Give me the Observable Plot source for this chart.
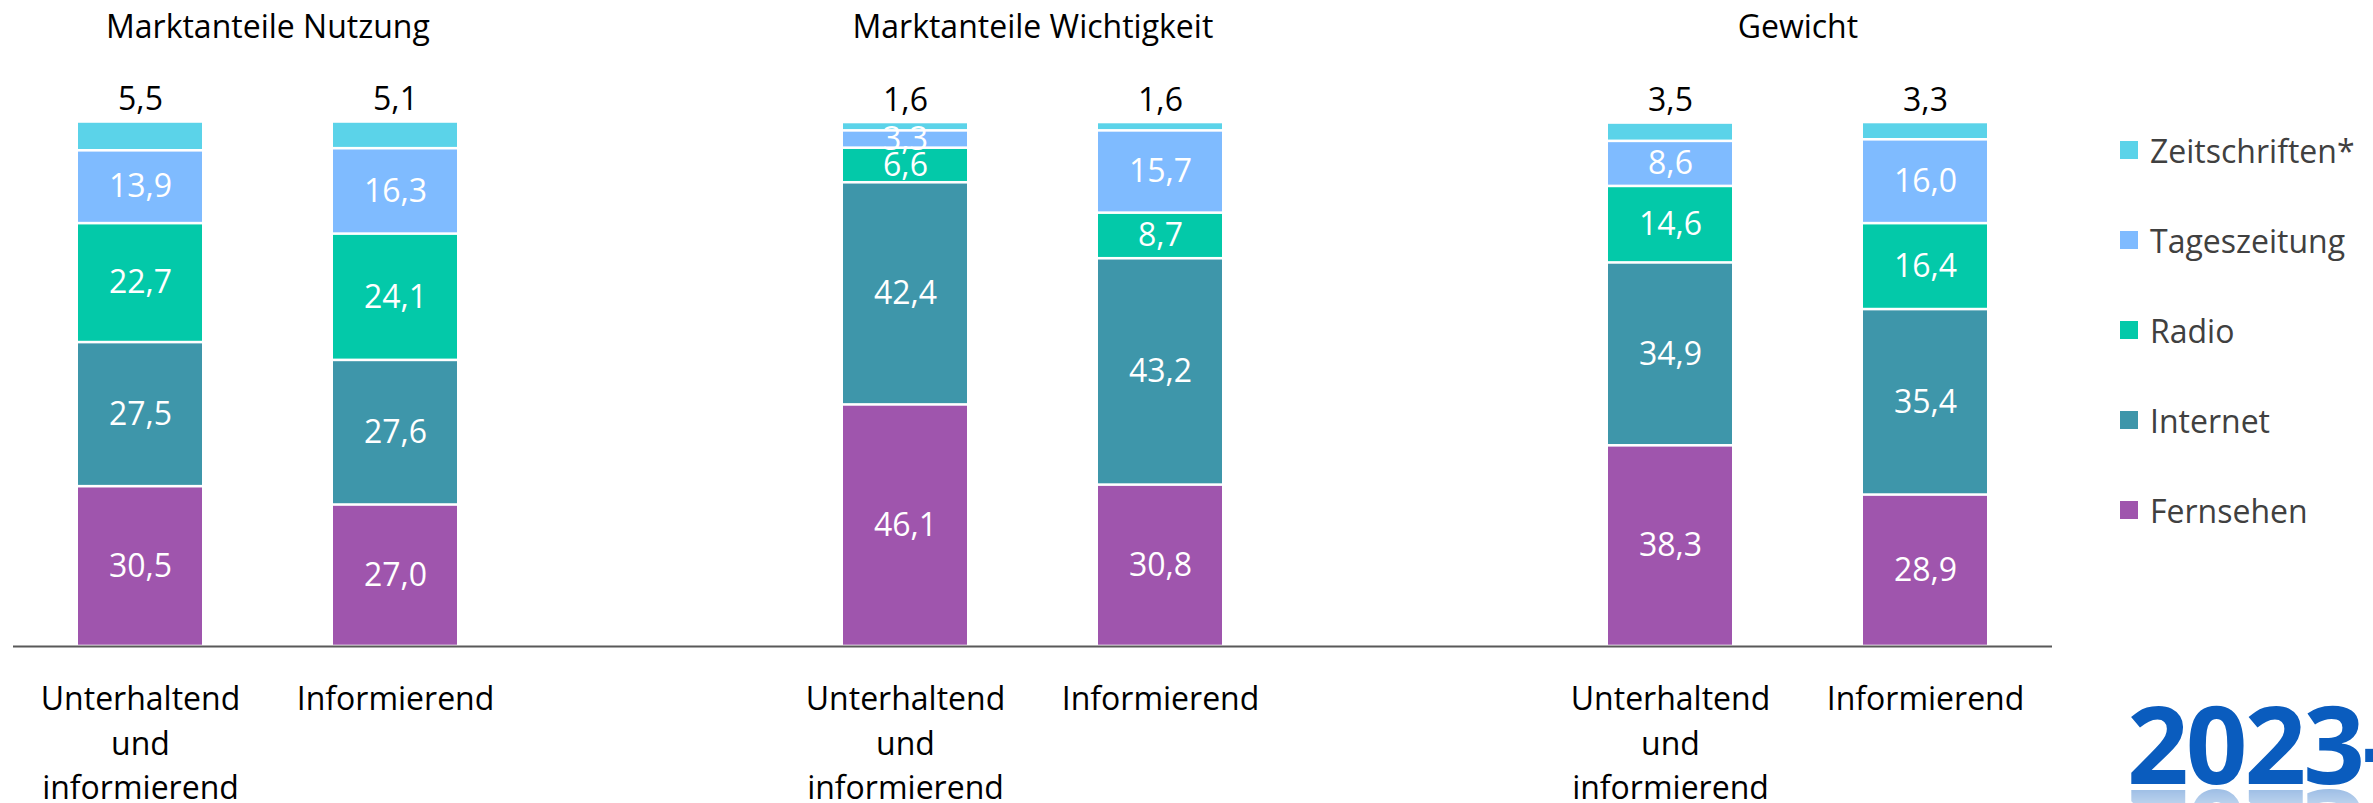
<!DOCTYPE html>
<html><head><meta charset="utf-8">
<script src="https://cdn.jsdelivr.net/npm/d3@7"></script>
<script src="https://cdn.jsdelivr.net/npm/@observablehq/plot@0.6"></script>
<style>
body{margin:0;background:#fff;width:2373px;height:803px;overflow:hidden;position:relative;font-family:"Open Sans",sans-serif;}
#chart{position:absolute;left:0;top:0;}
#legend{position:absolute;left:2120px;top:105px;}
.item{display:flex;align-items:center;height:90px;font-size:32px;color:#404040;white-space:nowrap;}
.sw{width:18px;height:18px;margin-right:12px;flex:none;}
#logo{position:absolute;left:2127px;top:689px;font-size:108px;line-height:1;font-weight:700;color:#0A5CBE;letter-spacing:-3px;white-space:nowrap;
 -webkit-box-reflect:below -20px linear-gradient(transparent 45%, rgba(255,255,255,0.5));}
</style>
</head><body>
<div id="chart"></div>
<div id="legend"></div>
<div id="logo">2023-</div>
<script>
const series = ["Fernsehen","Internet","Radio","Tageszeitung","Zeitschriften*"];
const colors = ["#9F55AD","#3E96AA","#03C9A9","#7FBBFF","#5BD3E9"];
const groups = ["Marktanteile Nutzung","Marktanteile Wichtigkeit","Gewicht"];
const categories = ["Unterhaltend\nund\ninformierend","Informierend"];
// values bottom to top: Fernsehen, Internet, Radio, Tageszeitung, Zeitschriften*
const nutzungUnterhaltend = [30.5, 27.5, 22.7, 13.9, 5.5];
const nutzungInformierend = [27.0, 27.6, 24.1, 16.3, 5.1];
const wichtigkeitUnterhaltend = [46.1, 42.4, 6.6, 3.3, 1.6];
const wichtigkeitInformierend = [30.8, 43.2, 8.7, 15.7, 1.6];
const gewichtUnterhaltend = [38.3, 34.9, 14.6, 8.6, 3.5];
const gewichtInformierend = [28.9, 35.4, 16.4, 16.0, 3.3];

const slots = ["N-U","N-I","gap1","W-U","W-I","gap2","G-U","G-I"];
const columns = [
  {slot:"N-U", cat:0, group:0, values:nutzungUnterhaltend},
  {slot:"N-I", cat:1, group:0, values:nutzungInformierend},
  {slot:"W-U", cat:0, group:1, values:wichtigkeitUnterhaltend},
  {slot:"W-I", cat:1, group:1, values:wichtigkeitInformierend},
  {slot:"G-U", cat:0, group:2, values:gewichtUnterhaltend},
  {slot:"G-I", cat:1, group:2, values:gewichtInformierend}
];
const fmt = v => v.toFixed(1).replace(".", ",");
const rows = [];
for (const c of columns) {
  let acc = 0;
  c.values.forEach((v, i) => {
    rows.push({slot:c.slot, series:series[i], y1:acc, y2:acc+v, mid:acc+v/2, label:fmt(v), top:i===series.length-1});
    acc += v;
  });
}
const catLabels = columns.map(c => ({slot:c.slot, label:categories[c.cat]}));
const titleLabels = columns.filter(c => c.cat===1).map(c => ({slot:c.slot, label:groups[c.group]}));

const chart = Plot.plot({
  width: 2100, height: 803,
  marginTop: 122, marginBottom: 157, marginLeft: 13, marginRight: 48,
  style: {fontFamily: "'Open Sans', sans-serif", background: "white"},
  x: {domain: slots, paddingInner: 0.514, paddingOuter: 0.25, axis: null},
  y: {domain: [0, 100], axis: null},
  color: {domain: series, range: colors},
  marks: [
    Plot.barY(rows, {x:"slot", y1:"y1", y2:"y2", fill:"series", insetTop:1.3, insetBottom:1.3}),
    Plot.ruleY([0], {stroke:"#595959", strokeWidth:2}),
    Plot.text(rows.filter(d => !d.top), {x:"slot", y:"mid", text:"label", fill:"white", fontSize:32}),
    Plot.text(rows.filter(d => d.top), {x:"slot", y:"y2", text:"label", fill:"black", fontSize:32, dy:-22}),
    Plot.text(catLabels, {x:"slot", text:"label", frameAnchor:"bottom", lineAnchor:"top", dy:32, lineHeight:1.39, fontSize:32, fill:"black"}),
    Plot.text(titleLabels, {x:"slot", text:"label", frameAnchor:"top", lineAnchor:"middle", dx:-127.6, dy:-95, fontSize:32, fill:"black"})
  ]
});
document.getElementById("chart").appendChild(chart);

const legend = document.getElementById("legend");
[...series].reverse().forEach(s => {
  const it = document.createElement("div");
  it.className = "item";
  const sw = document.createElement("div");
  sw.className = "sw";
  sw.style.background = colors[series.indexOf(s)];
  const t = document.createElement("span");
  t.textContent = s;
  it.appendChild(sw); it.appendChild(t);
  legend.appendChild(it);
});
</script>
</body></html>
